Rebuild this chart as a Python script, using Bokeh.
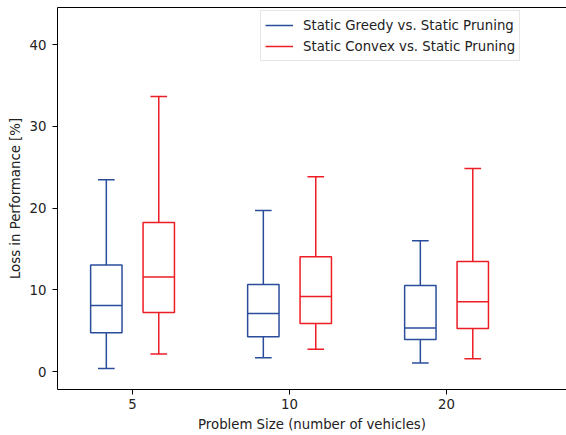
from bokeh.plotting import figure
from bokeh.models import Range1d, FixedTicker, Legend, LegendItem, LinearAxis
from bokeh.embed import file_html
from bokeh.resources import INLINE

sizes = ["5", "10", "20"]
series_names = ["Static Greedy vs. Static Pruning", "Static Convex vs. Static Pruning"]

greedy_low = [0.37, 1.68, 1.03]
greedy_q1 = [4.74, 4.25, 3.92]
greedy_med = [8.08, 7.10, 5.31]
greedy_q3 = [13.02, 10.65, 10.53]
greedy_high = [23.46, 19.71, 16.0]

convex_low = [2.13, 2.74, 1.55]
convex_q1 = [7.22, 5.88, 5.27]
convex_med = [11.55, 9.18, 8.53]
convex_q3 = [18.24, 14.04, 13.46]
convex_high = [33.66, 23.83, 24.85]

y_ticks = [0, 10, 20, 30, 40]

BLUE = "#2a4d9b"
RED = "#ee1c25"
FONT = "DejaVu Sans"
FS = "13.3px"

Y_END = 44.54
p = figure(frame_width=509, frame_height=382,
           output_backend="svg", toolbar_location=None,
           x_range=Range1d(0.522, 3.764), y_range=Range1d(-2.2, Y_END),
           min_border_left=57, min_border_right=0, min_border_top=7, min_border_bottom=44)
p.outline_line_color = None
p.xgrid.visible = False
p.ygrid.visible = False
p.background_fill_color = "white"

half_w = 0.1
cap_hw = 0.053
offset = 0.167


def draw(low, q1, med, q3, high, color, off):
    pos = [i + 1 + off for i in range(len(sizes))]
    left = [x - half_w for x in pos]
    right = [x + half_w for x in pos]
    cl = [x - cap_hw for x in pos]
    cr = [x + cap_hw for x in pos]
    kw = dict(line_color=color, line_width=1.5)
    p.quad(left=left, right=right, bottom=q1, top=q3, fill_color=None, **kw)
    p.segment(x0=left, x1=right, y0=med, y1=med, **kw)
    wr = p.segment(x0=pos, x1=pos, y0=q3, y1=high, **kw)
    p.segment(x0=pos, x1=pos, y0=q1, y1=low, **kw)
    p.segment(x0=cl, x1=cr, y0=high, y1=high, **kw)
    p.segment(x0=cl, x1=cr, y0=low, y1=low, **kw)
    return wr


r1 = draw(greedy_low, greedy_q1, greedy_med, greedy_q3, greedy_high, BLUE, -offset)
r2 = draw(convex_low, convex_q1, convex_med, convex_q3, convex_high, RED, offset)

legend = Legend(items=[LegendItem(label=series_names[0], renderers=[r1]),
                       LegendItem(label=series_names[1], renderers=[r2])],
                location=(203, 328))
legend.label_text_font = FONT
legend.label_text_font_size = FS
legend.label_text_color = "#222222"
legend.glyph_width = 28
legend.glyph_height = 20
legend.label_height = 20
legend.padding = 4
legend.spacing = 1
legend.label_standoff = 10
legend.margin = 0
legend.border_line_color = "#cccccc"
legend.border_line_width = 1
legend.background_fill_alpha = 0.85
p.add_layout(legend)

for ax in (p.xaxis[0], p.yaxis[0]):
    ax.axis_line_color = "black"
    ax.axis_line_width = 1
    ax.major_tick_line_color = "black"
    ax.major_tick_in = 0
    ax.major_tick_out = 5
    ax.minor_tick_line_color = None
    ax.major_label_text_font = FONT
    ax.major_label_text_font_size = FS
    ax.major_label_text_color = "#222222"
    ax.axis_label_text_font = FONT
    ax.axis_label_text_font_size = FS
    ax.axis_label_text_font_style = "normal"
    ax.axis_label_text_color = "#222222"

p.xaxis.ticker = FixedTicker(ticks=[1, 2, 3])
p.xaxis.major_label_overrides = {i + 1: s for i, s in enumerate(sizes)}
p.xaxis.axis_label = "Problem Size (number of vehicles)"
p.xaxis.major_label_standoff = 4
p.xaxis.axis_label_standoff = 5

p.yaxis.ticker = FixedTicker(ticks=y_ticks)
p.yaxis.axis_label = "Loss in Performance [%]"
p.yaxis.major_label_standoff = 6
p.yaxis.axis_label_standoff = 4

top_axis = LinearAxis(ticker=FixedTicker(ticks=[]), axis_line_color="black", axis_line_width=1,
                      major_tick_out=0, major_tick_in=0, minor_tick_out=0, minor_tick_in=0,
                      major_tick_line_color=None, minor_tick_line_color=None,
                      major_label_standoff=0, major_label_text_font_size="0px")
p.add_layout(top_axis, "above")

open("out.html", "w").write(file_html(p, INLINE))
